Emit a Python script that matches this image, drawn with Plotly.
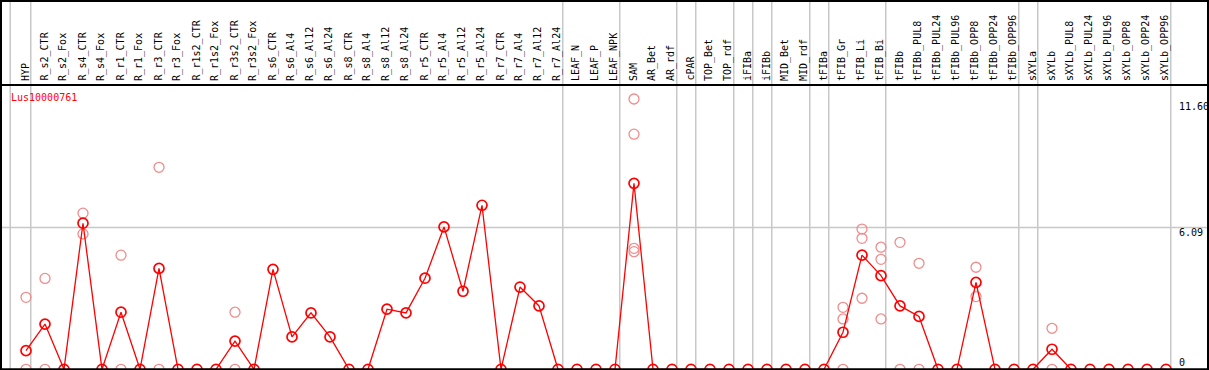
import plotly.graph_objects as go

W, H = 1209, 370

categories = [
    "HYP", "R_s2_CTR", "R_s2_Fox", "R_s4_CTR", "R_s4_Fox", "R_r1_CTR", "R_r1_Fox",
    "R_r3_CTR", "R_r3_Fox", "R_r1s2_CTR", "R_r1s2_Fox", "R_r3s2_CTR", "R_r3s2_Fox",
    "R_s6_CTR", "R_s6_Al4", "R_s6_Al12", "R_s6_Al24", "R_s8_CTR", "R_s8_Al4",
    "R_s8_Al12", "R_s8_Al24", "R_r5_CTR", "R_r5_Al4", "R_r5_Al12", "R_r5_Al24",
    "R_r7_CTR", "R_r7_Al4", "R_r7_Al12", "R_r7_Al24", "LEAF_N", "LEAF_P", "LEAF_NPK",
    "SAM", "AR_Bet", "AR_rdf", "cPAR", "TOP_Bet", "TOP_rdf", "iFIBa", "iFIBb",
    "MID_Bet", "MID_rdf", "tFIBa", "tFIB_Gr", "tFIB_Li", "tFIB_Bi", "tFIBb",
    "tFIBb_PUL8", "tFIBb_PUL24", "tFIBb_PUL96", "tFIBb_OPP8", "tFIBb_OPP24",
    "tFIBb_OPP96", "sXYLa", "sXYLb", "sXYLb_PUL8", "sXYLb_PUL24", "sXYLb_PUL96",
    "sXYLb_OPP8", "sXYLb_OPP24", "sXYLb_OPP96",
]

mean_values = [
    0.80, 1.94, 0, 6.27, 0, 2.45, 0, 4.33, 0, 0, 0, 1.21, 0,
    4.29, 1.39, 2.42, 1.39, 0, 0, 2.58, 2.42, 3.91, 6.11, 3.35, 7.04,
    0, 3.53, 2.72, 0, 0, 0, 0,
    7.98, 0, 0, 0, 0, 0, 0, 0, 0, 0, 0,
    1.59, 4.90, 4.02, 2.72, 2.27, 0, 0, 3.73, 0, 0,
    0, 0.86, 0, 0, 0, 0, 0, 0,
]

replicate_cats = [
    "HYP", "HYP", "R_s2_CTR", "R_s2_CTR", "R_s4_CTR", "R_s4_CTR",
    "R_r1_CTR", "R_r1_CTR", "R_r3_CTR", "R_r3_CTR", "R_r3s2_CTR", "R_r3s2_CTR",
    "SAM", "SAM", "SAM", "SAM",
    "tFIB_Gr", "tFIB_Gr", "tFIB_Gr", "tFIB_Li", "tFIB_Li", "tFIB_Li",
    "tFIB_Bi", "tFIB_Bi", "tFIB_Bi", "tFIBb", "tFIBb", "tFIBb_PUL8", "tFIBb_PUL8",
    "tFIBb_OPP8", "tFIBb_OPP8", "sXYLb", "sXYLb",
]
replicate_values = [
    3.09, 0, 3.90, 0, 6.70, 5.81,
    4.90, 0, 8.67, 0, 2.45, 0,
    11.60, 10.09, 5.19, 5.05,
    2.66, 2.16, 0, 6.02, 5.62, 3.05,
    5.24, 4.72, 2.16, 5.45, 0, 4.55, 0,
    4.38, 3.12, 1.76, 0,
]

# group separators (after these category indices)
separator_after = [0, 28, 31, 34, 35, 37, 38, 39, 41, 42, 45, 52, 53, 60]

tick_values = [0, 6.09, 11.60]
tick_labels = ["0", "6.09", "11.60"]
gene_name = "Lus10000761"

RED = "#ff0000"
LIGHT = "#f08c8c"
GRAY = "#c8c8c8"
MONO = "DejaVu Sans Mono"

PX_PER_CAT = 19.0
X0_PX = 26.0
PLOT_TOP = 85.0
ZERO_PX = 369.3
PX_PER_UNIT = 23.3

x_range = [-X0_PX / PX_PER_CAT, (W - X0_PX) / PX_PER_CAT]
y_range = [-(H - ZERO_PX) / PX_PER_UNIT, (ZERO_PX - PLOT_TOP) / PX_PER_UNIT]

fig = go.Figure()
fig.add_trace(go.Scatter(
    x=replicate_cats, y=replicate_values, mode="markers",
    marker=dict(symbol="circle-open", size=10, color=LIGHT, line=dict(width=1.3, color=LIGHT)),
    cliponaxis=False, showlegend=False, hoverinfo="x+y",
))
fig.add_trace(go.Scatter(
    x=categories, y=mean_values, mode="lines+markers",
    line=dict(color=RED, width=1.3),
    marker=dict(symbol="circle-open", size=10, color=RED, line=dict(width=1.7, color=RED)),
    cliponaxis=False, showlegend=False, hoverinfo="x+y",
))

shapes = []
shapes.append(dict(type="line", xref="x", yref="paper", x0=-0.83, x1=-0.83, y0=0, y1=1,
                   line=dict(color=GRAY, width=1.5), layer="below"))
for k in separator_after:
    shapes.append(dict(type="line", xref="x", yref="paper", x0=k + 0.25, x1=k + 0.25,
                       y0=0, y1=1, line=dict(color=GRAY, width=1.5), layer="below"))
shapes.append(dict(type="line", xref="paper", yref="y", x0=0, x1=1, y0=tick_values[1],
                   y1=tick_values[1], line=dict(color=GRAY, width=1.5), layer="below"))


def px(xp):
    return xp / W


def py(yp):
    return 1 - yp / H


frame = dict(color="black", width=2)
shapes += [
    dict(type="line", xref="paper", yref="paper", x0=px(1), x1=px(1), y0=0, y1=1, line=frame),
    dict(type="line", xref="paper", yref="paper", x0=px(1208), x1=px(1208), y0=0, y1=1, line=frame),
    dict(type="line", xref="paper", yref="paper", x0=0, x1=1, y0=py(1), y1=py(1), line=frame),
    dict(type="line", xref="paper", yref="paper", x0=0, x1=1, y0=py(369.3), y1=py(369.3), line=frame),
    dict(type="line", xref="paper", yref="paper", x0=0, x1=1, y0=py(85), y1=py(85), line=frame),
]

annotations = []
for c in categories:
    annotations.append(dict(
        x=c, xref="x", y=py(83), yref="paper", text=c, textangle=-90,
        xanchor="center", yanchor="bottom", showarrow=False, xshift=-1,
        font=dict(family=MONO, size=10, color="black"),
    ))
tick_label_px = [362, 232, 106.7]
for lab, ypx in zip(tick_labels, tick_label_px):
    annotations.append(dict(
        x=px(1177), xref="paper", y=py(ypx), yref="paper", text=lab,
        xanchor="left", yanchor="middle", showarrow=False,
        font=dict(family=MONO, size=10, color="black"),
    ))
annotations.append(dict(
    x=px(9), xref="paper", y=py(97), yref="paper", text=gene_name,
    xanchor="left", yanchor="middle", showarrow=False,
    font=dict(family=MONO, size=10, color=RED),
))

fig.update_layout(
    width=W, height=H,
    margin=dict(l=0, r=0, t=0, b=0),
    paper_bgcolor="white", plot_bgcolor="white",
    xaxis=dict(range=x_range, showgrid=False, zeroline=False, showticklabels=False,
               ticks="", categoryorder="array", categoryarray=categories, fixedrange=True),
    yaxis=dict(range=y_range, domain=[0, (H - PLOT_TOP) / H], showgrid=False, zeroline=False,
               showticklabels=False, ticks="", tickvals=tick_values, fixedrange=True),
    shapes=shapes, annotations=annotations,
)

fig.write_html(
    "out.html",
    config={"displayModeBar": False},
    post_script="document.body.style.margin='0';document.body.style.padding='0';"
                "document.body.style.overflow='hidden';",
)
